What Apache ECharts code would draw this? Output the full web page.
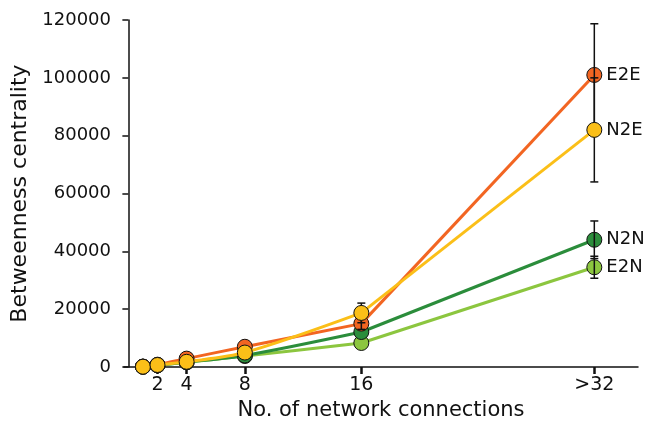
<!DOCTYPE html>
<html>
<head>
<meta charset="utf-8">
<script src="https://cdn.jsdelivr.net/npm/echarts@6/dist/echarts.min.js"></script>
<style>html,body{margin:0;padding:0;background:#fff}#c{width:649px;height:430px}</style>
</head>
<body>
<div id="c"></div>
<script>
var connections = [1, 2, 4, 8, 16, 32];
var tickValues = [2, 4, 8, 16, 32];
var tickLabels = ['2', '4', '8', '16', '>32'];
var seriesNames = ['E2E', 'N2E', 'N2N', 'E2N'];
var E2E = [150, 800, 2900, 7000, 15000, 101000];
var N2E = [100, 700, 1800, 5000, 18700, 82000];
var N2N = [100, 600, 1700, 4000, 12100, 44000];
var E2N = [100, 600, 1600, 3800, 8300, 34500];
var E2E_err = [0, 0, 0, 0, 2000, 17700];
var N2E_err = [0, 0, 0, 0, 3400, 18000];
var N2N_err = [0, 0, 0, 0, 0, 6500];
var E2N_err = [0, 0, 0, 0, 0, 3800];
var colors = {E2E: '#f26522', N2E: '#fbbf18', N2N: '#2b8d3b', E2N: '#8cc63f'};

var values = {E2E: E2E, N2E: N2E, N2N: N2N, E2N: E2N};
var errs = {E2E: E2E_err, N2E: N2E_err, N2N: N2N_err, E2N: E2N_err};
var FONT = 'DejaVu Sans';

function errSeries(name, z) {
  var d = [];
  connections.forEach(function (x, i) {
    if (errs[name][i] > 0) d.push([x, values[name][i] - errs[name][i], values[name][i] + errs[name][i]]);
  });
  return {
    type: 'custom', z: z, silent: true,
    data: d,
    renderItem: function (params, api) {
      var x = api.value(0);
      var lo = api.coord([x, api.value(1)]);
      var hi = api.coord([x, api.value(2)]);
      var w = 4;
      var st = {stroke: '#111', lineWidth: 1.5};
      return {type: 'group', children: [
        {type: 'line', shape: {x1: lo[0], y1: lo[1], x2: hi[0], y2: hi[1]}, style: st},
        {type: 'line', shape: {x1: lo[0] - w, y1: lo[1], x2: lo[0] + w, y2: lo[1]}, style: st},
        {type: 'line', shape: {x1: hi[0] - w, y1: hi[1], x2: hi[0] + w, y2: hi[1]}, style: st}
      ]};
    }
  };
}

function baseStyle(name) {
  return {
    symbol: 'circle', symbolSize: 15,
    lineStyle: {color: colors[name], width: 3},
    itemStyle: {color: colors[name], borderColor: '#111', borderWidth: 1},
    label: {show: false, position: 'right', distance: 4, color: '#111', fontSize: 18, fontFamily: FONT},
    emphasis: {disabled: true}
  };
}

// curved part: first points up to 16; straight part: 16 -> >32
function lineSeries(name, z) {
  var pts = connections.map(function (x, i) { return [x, values[name][i]]; });
  var n = pts.length;
  var curve = Object.assign({type: 'line', name: name, z: z, smooth: 0.3,
    data: pts.slice(0, n - 1)}, baseStyle(name));
  var straight = Object.assign({type: 'line', name: name, z: z, smooth: false,
    data: [
      {value: pts[n - 2], symbol: 'none'},
      {value: pts[n - 1], label: {show: true, formatter: name}}
    ]}, baseStyle(name));
  return [straight, curve];
}

var series = [];
series = series.concat(lineSeries('E2N', 2), [errSeries('E2N', 3)]);
series = series.concat(lineSeries('N2N', 4), [errSeries('N2N', 5)]);
series = series.concat(lineSeries('E2E', 6), [errSeries('E2E', 7)]);
series = series.concat([errSeries('N2E', 8)], lineSeries('N2E', 9));

var chart = echarts.init(document.getElementById('c'));
chart.setOption({
  animation: false,
  grid: {left: 124, right: 11, top: 20, bottom: 63},
  xAxis: {
    type: 'value', min: -0.3, max: 35,
    name: 'No. of network connections', nameLocation: 'middle', nameGap: 33,
    nameTextStyle: {color: '#111', fontSize: 21, fontFamily: FONT},
    axisLine: {lineStyle: {color: '#111', width: 1.5}},
    axisTick: {show: true, customValues: tickValues, length: 7, lineStyle: {color: '#111', width: 2.5}},
    axisLabel: {customValues: tickValues, color: '#111', fontSize: 19, fontFamily: FONT, margin: 9,
      formatter: function (v) { var i = tickValues.indexOf(v); return i >= 0 ? tickLabels[i] : ''; }},
    splitLine: {show: false}
  },
  yAxis: {
    type: 'value', min: 0, max: 120000, interval: 20000,
    name: 'Betweenness centrality', nameLocation: 'middle', nameGap: 91,
    nameTextStyle: {color: '#111', fontSize: 22, fontFamily: FONT},
    axisLine: {show: true, lineStyle: {color: '#111', width: 1.5}},
    axisTick: {show: true, length: 6, lineStyle: {color: '#111', width: 1.5}},
    axisLabel: {color: '#111', fontSize: 18, fontFamily: FONT, margin: 13,
      formatter: function (v) { return String(v); }},
    splitLine: {show: false}
  },
  series: series
});
</script>
</body>
</html>
